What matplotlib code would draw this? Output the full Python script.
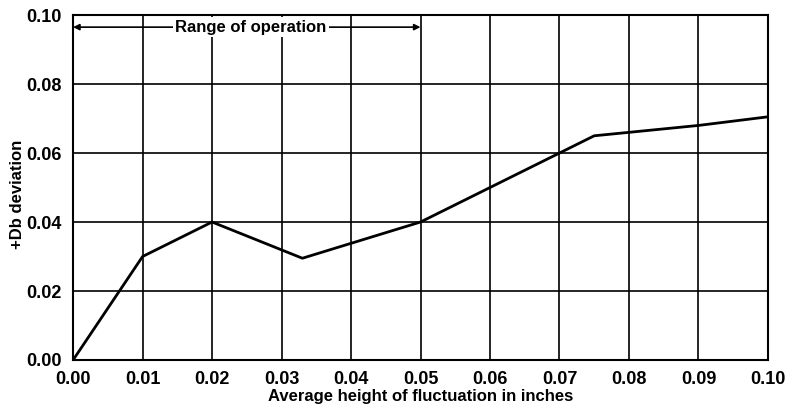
import matplotlib
matplotlib.use("Agg")
import matplotlib.pyplot as plt

x_vals = [0.0, 0.01, 0.02, 0.033, 0.05, 0.06, 0.07, 0.075, 0.08, 0.09, 0.10]
y_vals = [0.0, 0.030, 0.040, 0.0295, 0.040, 0.050, 0.060, 0.065, 0.066, 0.068, 0.0705]
x_ticks = [0.00, 0.01, 0.02, 0.03, 0.04, 0.05, 0.06, 0.07, 0.08, 0.09, 0.10]
y_ticks = [0.00, 0.02, 0.04, 0.06, 0.08, 0.10]
range_start, range_end, range_y = 0.0, 0.05, 0.0965

plt.rcParams['font.family'] = ['Liberation Sans', 'DejaVu Sans']
plt.rcParams['font.weight'] = 'bold'

fig = plt.figure(figsize=(7.86, 4.07), dpi=100)
ax = fig.add_axes([0.093, 0.1155, 0.884, 0.8475])
ax.plot(x_vals, y_vals, color='black', lw=2.0, zorder=3)
ax.set_xlim(0, 0.10)
ax.set_ylim(0, 0.10)
ax.set_xticks(x_ticks)
ax.set_yticks(y_ticks)
ax.set_xticklabels([f"{v:.2f}" for v in x_ticks], fontweight='bold')
ax.set_yticklabels([f"{v:.2f}" for v in y_ticks], fontweight='bold')
ax.grid(True, color='black', lw=1.2)
ax.tick_params(length=0, labelsize=13)
ax.tick_params(axis='y', pad=8)
ax.tick_params(axis='x', pad=8)
for s in ax.spines.values():
    s.set_linewidth(1.5)
ax.set_xlabel("Average height of fluctuation in inches", fontsize=12, fontweight='bold', labelpad=1)
ax.set_ylabel("+Db deviation", fontsize=12, fontweight='bold')
ax.yaxis.set_label_coords(-0.069, 0.48)

ax.annotate('', xy=(range_start, range_y), xytext=(range_end, range_y),
            arrowprops=dict(arrowstyle='<|-|>', color='black', lw=1.2,
                            mutation_scale=9, shrinkA=0, shrinkB=0), zorder=4)
ax.text(0.0256, range_y, "Range of operation", ha='center', va='center',
        fontsize=12, fontweight='bold', zorder=5,
        bbox=dict(facecolor='white', edgecolor='none', pad=2))

fig.savefig("out.png", dpi=100)
